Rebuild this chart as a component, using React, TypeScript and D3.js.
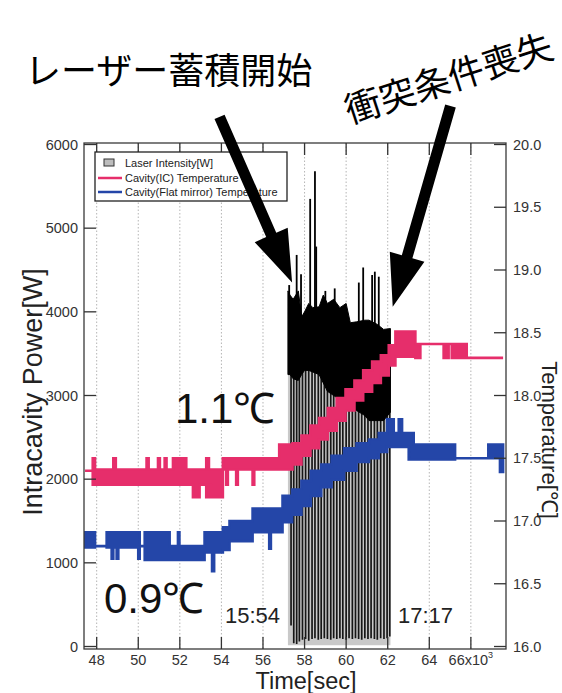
import React from "react";
import * as d3 from "d3";

const W = 562;
const H = 693;

// Axis ticks (time in 10^3 s)
const xTicks = [48, 50, 52, 54, 56, 58, 60, 62, 64, 66];
const powerTicks = [0, 1000, 2000, 3000, 4000, 5000, 6000];
const tempTicks = [16.0, 16.5, 17.0, 17.5, 18.0, 18.5, 19.0, 19.5, 20.0];
const timeEnd = 67.55;

// Cavity (IC) temperature: step start [10^3 s], band low / high [°C]
const icTime = [47.44, 47.81, 47.92, 48.8, 48.92, 50.4, 50.5, 50.95, 51.04, 51.27, 51.36, 51.67, 52.31, 52.63, 52.95, 53.27, 53.4, 53.51, 54.07, 54.23, 54.31, 54.71, 54.79, 55.5, 55.58, 56.78, 57.42, 57.85, 58.28, 58.7, 59.12, 59.55, 59.97, 60.4, 60.82, 61.25, 61.67, 62.05, 62.37, 63.33, 63.57, 64.69, 64.93, 65.08, 65.8];
const icLow = [17.4, 17.29, 17.29, 17.29, 17.29, 17.29, 17.29, 17.29, 17.29, 17.29, 17.29, 17.29, 17.29, 17.19, 17.29, 17.19, 17.29, 17.19, 17.41, 17.29, 17.41, 17.29, 17.41, 17.29, 17.41, 17.41, 17.45, 17.52, 17.58, 17.65, 17.72, 17.8, 17.88, 17.96, 18.03, 18.1, 18.16, 18.24, 18.31, 18.3, 18.41, 18.3, 18.41, 18.3, 18.3];
const icHigh = [17.4, 17.5, 17.41, 17.5, 17.41, 17.5, 17.41, 17.5, 17.41, 17.5, 17.41, 17.5, 17.41, 17.41, 17.41, 17.5, 17.41, 17.41, 17.5, 17.5, 17.5, 17.5, 17.5, 17.5, 17.5, 17.61, 17.62, 17.68, 17.76, 17.82, 17.9, 17.98, 18.05, 18.12, 18.2, 18.27, 18.32, 18.4, 18.51, 18.41, 18.41, 18.41, 18.41, 18.41, 18.3];

// Cavity (flat mirror) temperature
const flatTime = [47.44, 47.92, 48.48, 48.72, 48.8, 48.96, 49.04, 50.0, 50.07, 50.31, 51.51, 51.91, 51.98, 53.19, 53.55, 53.65, 54.07, 54.39, 55.5, 56.3, 56.38, 56.94, 57.4, 57.85, 58.3, 58.8, 59.3, 59.9, 60.5, 61.1, 61.57, 61.97, 62.29, 62.53, 62.69, 63.01, 63.25, 65.24, 66.84, 67.4];
const flatLow = [16.79, 16.8, 16.79, 16.7, 16.79, 16.7, 16.79, 16.7, 16.8, 16.69, 16.69, 16.69, 16.69, 16.75, 16.6, 16.75, 16.77, 16.84, 16.91, 16.78, 16.91, 16.99, 17.05, 17.12, 17.2, 17.27, 17.33, 17.4, 17.47, 17.5, 17.55, 17.59, 17.59, 17.59, 17.59, 17.49, 17.49, 17.5, 17.5, 17.39];
const flatHigh = [16.91, 16.8, 16.91, 16.91, 16.91, 16.91, 16.91, 16.91, 16.8, 16.91, 16.8, 16.91, 16.8, 16.91, 16.91, 16.91, 16.95, 17.0, 17.1, 17.1, 17.1, 17.2, 17.25, 17.32, 17.4, 17.45, 17.52, 17.58, 17.62, 17.65, 17.7, 17.81, 17.7, 17.81, 17.7, 17.7, 17.61, 17.5, 17.61, 17.61];

// Laser intensity [W]: envelope of the dense trace
const laserTime = [57.2, 57.3, 57.45, 57.7, 57.86, 58.0, 58.2, 58.4, 58.7, 58.9, 59.1, 59.4, 59.7, 60.0, 60.2, 60.5, 60.9, 61.1, 61.5, 61.8, 62.13];
const laserTop = [4250, 4200, 4150, 4250, 3940, 4000, 4100, 4050, 4060, 4200, 4100, 4150, 4050, 4100, 3870, 3880, 3900, 3900, 3850, 3790, 3800];
const laserBottom = [3250, 3250, 3200, 3180, 3250, 3300, 3300, 3280, 3250, 3150, 3050, 3000, 2950, 2920, 2900, 2820, 2760, 2700, 2700, 2700, 2800];

// Narrow peaks above the envelope
const spikeTime = [57.26, 57.62, 57.83, 58.27, 58.5, 58.56, 59.0, 59.45, 60.61, 60.82, 61.25, 61.38, 61.57];
const spikePeak = [4320, 4680, 4450, 5350, 5680, 4780, 4250, 4280, 4350, 4530, 4440, 4480, 4420];

// Power drops between accumulation cycles
const dropTime = [57.35, 57.48, 57.62, 57.75, 57.9, 58.05, 58.2, 58.36, 58.5, 58.66, 58.8, 58.95, 59.1, 59.26, 59.4, 59.55, 59.7, 59.84, 60.0, 60.14, 60.3, 60.45, 60.6, 60.75, 60.9, 61.05, 61.2, 61.36, 61.5, 61.66, 61.82, 61.97, 62.1];
const dropFloor = [250, 40, 30, 60, 80, 90, 70, 90, 100, 80, 90, 100, 90, 80, 100, 90, 100, 90, 80, 100, 90, 100, 90, 80, 100, 90, 100, 90, 80, 100, 90, 100, 120];

const PINK = "#e62e6b";
const BLUE = "#2446a8";

type Band = { t: number; lo: number; hi: number };

function makeBand(time: number[], lo: number[], hi: number[]): Band[] {
  const rows = time.map((t, i) => ({ t, lo: lo[i], hi: hi[i] }));
  const last = rows[rows.length - 1];
  rows.push({ t: timeEnd, lo: last.lo, hi: last.hi });
  return rows;
}

function arrowPath(x0: number, y0: number, x1: number, y1: number) {
  const dx = x1 - x0;
  const dy = y1 - y0;
  const len = Math.hypot(dx, dy);
  const ux = dx / len, uy = dy / len;
  const nx = -uy, ny = ux;
  const sw = 5.5, hl = 52, hw = 18;
  const bx = x1 - ux * hl, by = y1 - uy * hl;
  const pts = [
    [x0 + nx * sw, y0 + ny * sw],
    [bx + nx * sw, by + ny * sw],
    [bx + nx * hw, by + ny * hw],
    [x1, y1],
    [bx - nx * hw, by - ny * hw],
    [bx - nx * sw, by - ny * sw],
    [x0 - nx * sw, y0 - ny * sw],
  ];
  return "M" + pts.map((p) => p.join(",")).join("L") + "Z";
}

export default function App() {
  const left = 84, right = 506, top = 143, bottom = 649;
  const x = d3.scaleLinear([47.39, 67.69], [left, right]);
  const yP = d3.scaleLinear([0, 6000], [646.5, 144.5]);
  const yT = d3.scaleLinear([16, 20], [646.5, 144.5]);

  const band = d3
    .area<Band>()
    .curve(d3.curveStepAfter)
    .x((d) => x(d.t))
    .y0((d) => yT(d.lo))
    .y1((d) => yT(d.hi));

  const icBand = makeBand(icTime, icLow, icHigh);
  const flatBand = makeBand(flatTime, flatLow, flatHigh);

  const laserRows = laserTime.map((t, i) => ({ t, top: laserTop[i], bottom: laserBottom[i] }));
  const laserArea = d3
    .area<{ t: number; top: number; bottom: number }>()
    .x((d) => x(d.t))
    .y0((d) => yP(d.bottom))
    .y1((d) => yP(d.top));
  const shadeArea = d3
    .area<{ t: number; top: number; bottom: number }>()
    .x((d) => x(d.t))
    .y0(() => yP(15))
    .y1((d) => yP(d.top - 200));

  const font = "'Liberation Sans', Arial, sans-serif";
  const jp = "'Noto Sans CJK JP', sans-serif";

  // annotation arrows, anchored in data space (time, power)
  const arrows = [
    { from: [53.91, 6330], to: [57.4, 4350] },
    { from: [65.02, 6460], to: [62.24, 4060] },
  ];

  return (
    <svg
      width={W}
      height={H}
      viewBox={`0 0 ${W} ${H}`}
      style={{ position: "absolute", left: 0, top: 0, background: "#fff" }}
      fontFamily={font}
    >
      <defs>
        <clipPath id="plot">
          <rect x={left} y={top} width={right - left} height={bottom - top} />
        </clipPath>
      </defs>

      {/* vertical dotted grid */}
      {xTicks.map((t) => (
        <line key={"g" + t} x1={x(t)} x2={x(t)} y1={top} y2={bottom} stroke="#b5b5b5" strokeWidth={1} strokeDasharray="1.5,2" />
      ))}

      <g clipPath="url(#plot)">
        {/* laser intensity */}
        <path d={shadeArea(laserRows) ?? ""} fill="#c9c9c9" />
        {dropTime.map((t, i) => (
          <line key={"d" + i} x1={x(t)} x2={x(t)} y1={yP(dropFloor[i])} y2={yP(3400)} stroke="#161616" strokeWidth={1.7} />
        ))}
        <path d={laserArea(laserRows) ?? ""} fill="#000" stroke="#000" strokeWidth={1} />
        {spikeTime.map((t, i) => (
          <line key={"s" + i} x1={x(t)} x2={x(t)} y1={yP(3600)} y2={yP(spikePeak[i])} stroke="#000" strokeWidth={1.8} />
        ))}

        {/* temperatures */}
        <path d={band(flatBand) ?? ""} fill={BLUE} stroke={BLUE} strokeWidth={2.6} strokeLinejoin="miter" />
        <path d={band(icBand) ?? ""} fill={PINK} stroke={PINK} strokeWidth={2.6} strokeLinejoin="miter" />
      </g>

      {/* frame */}
      <rect x={left} y={top} width={right - left} height={bottom - top} fill="none" stroke="#3a3a3a" strokeWidth={1.3} />

      {/* bottom/top ticks */}
      {xTicks.map((t) => (
        <g key={"xt" + t}>
          <line x1={x(t)} x2={x(t)} y1={bottom} y2={bottom - 12} stroke="#333" strokeWidth={1.3} />
          <line x1={x(t)} x2={x(t)} y1={top} y2={top + 12} stroke="#333" strokeWidth={1.3} />
          <text x={x(t)} y={664.5} textAnchor="middle" fontSize={14.5} fill="#333">
            {t === 66 ? (
              <>
                66x10<tspan dy={-7} fontSize={9}>3</tspan>
              </>
            ) : (
              t
            )}
          </text>
        </g>
      ))}

      {/* power axis */}
      {powerTicks.map((p) => (
        <g key={"pt" + p}>
          <line x1={left} x2={left + 12} y1={yP(p)} y2={yP(p)} stroke="#333" strokeWidth={1.3} />
          <text x={left - 6} y={yP(p) + 5} textAnchor="end" fontSize={14.5} fill="#333">
            {p}
          </text>
        </g>
      ))}

      {/* temperature axis */}
      {tempTicks.map((t) => (
        <g key={"tt" + t}>
          <line x1={right} x2={right - 12} y1={yT(t)} y2={yT(t)} stroke="#333" strokeWidth={1.3} />
          <text x={right + 7} y={yT(t) + 5} textAnchor="start" fontSize={14.5} fill="#333">
            {t.toFixed(1)}
          </text>
        </g>
      ))}

      {/* axis titles */}
      <text transform="translate(42,392) rotate(-90)" textAnchor="middle" fontSize={27} fill="#222">
        Intracavity Power[W]
      </text>
      <text x={306} y={689} textAnchor="middle" fontSize={23.5} fill="#222">
        Time[sec]
      </text>
      <text transform="translate(542,440) rotate(90)" textAnchor="middle" fontSize={22} fill="#222">
        Temperature[℃]
      </text>

      {/* legend */}
      <g>
        <rect x={95} y={152} width={192} height={49} fill="#fff" stroke="#222" strokeWidth={1.3} />
        <rect x={104} y={159} width={10} height={7} fill="#bdbdbd" stroke="#333" strokeWidth={1} />
        <line x1={98} x2={122} y1={178} y2={178} stroke={PINK} strokeWidth={2.5} />
        <line x1={98} x2={122} y1={192} y2={192} stroke={BLUE} strokeWidth={2.5} />
        <text x={125} y={167} fontSize={11} fill="#222">Laser Intensity[W]</text>
        <text x={125} y={182} fontSize={11} fill="#222">Cavity(IC) Temperature</text>
        <text x={125} y={196} fontSize={11} fill="#222">Cavity(Flat mirror) Temperature</text>
      </g>

      {/* annotations */}
      <text x={175} y={423} fontSize={42} fill="#111">1.1℃</text>
      <text x={104} y={613} fontSize={42} fill="#111">0.9℃</text>
      <text x={225} y={623} fontSize={22} fill="#222">15:54</text>
      <text x={398} y={623} fontSize={22} fill="#222">17:17</text>

      {arrows.map((a, i) => (
        <path key={"a" + i} d={arrowPath(x(a.from[0]), yP(a.from[1]), x(a.to[0]), yP(a.to[1]))} fill="#000" />
      ))}

      <text x={25} y={84} fontSize={36} fontFamily={jp} fill="#000">
        レーザー蓄積開始
      </text>
      <text transform="translate(350,124) rotate(-18)" fontSize={36} fontFamily={jp} fill="#000">
        衝突条件喪失
      </text>
    </svg>
  );
}
